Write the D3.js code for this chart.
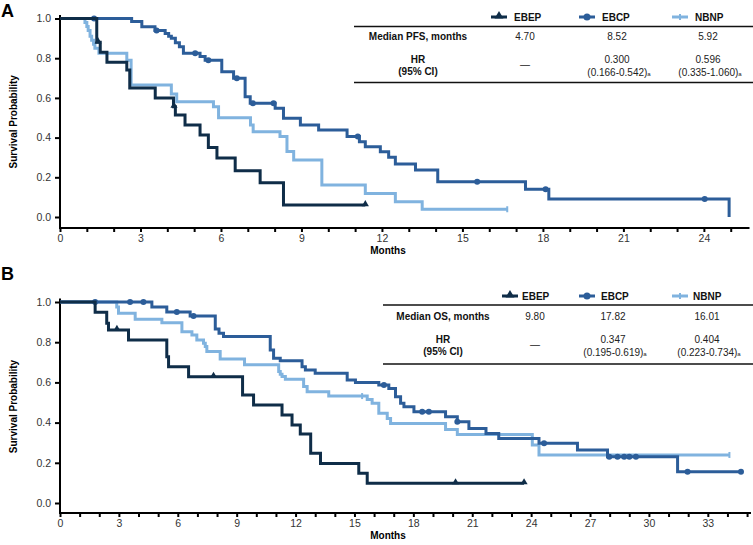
<!DOCTYPE html>
<html><head><meta charset="utf-8">
<script src="https://cdn.jsdelivr.net/npm/d3@7"></script>
<style>
html,body{margin:0;padding:0;background:#fff;}
svg{display:block;font-family:Arial,"Liberation Sans",Helvetica,sans-serif;}
</style></head>
<body><svg id="chart" width="753" height="545"></svg>
<script>
// ---------- data ----------
const groups = ["EBEP", "EBCP", "NBNP"];
const groupColors = ["#0f2d48", "#2c5d99", "#80b3df"];

const pfsMedians = ["4.70", "8.52", "5.92"];
const pfsHR = ["—", "0.300", "0.596"];
const pfsCI = ["", "(0.166-0.542)", "(0.335-1.060)"];
const osMedians = ["9.80", "17.82", "16.01"];
const osHR = ["—", "0.347", "0.404"];
const osCI = ["", "(0.195-0.619)", "(0.223-0.734)"];

const yTicks = [0, 0.2, 0.4, 0.6, 0.8, 1.0];

// PFS (panel A): event times (months) and survival after each step
const pfsEBEP_t = [1.37, 1.5, 1.75, 2.49, 2.6, 3.55, 4.23, 4.3, 4.66, 5.22, 5.53, 5.85, 6.53, 7.46, 8.33];
const pfsEBEP_s = [0.88, 0.83, 0.78, 0.74, 0.65, 0.60, 0.556, 0.514, 0.463, 0.413, 0.35, 0.297, 0.233, 0.173, 0.06];
const pfsEBEP_end = 11.38;
const pfsEBEP_cens = [1.42, 4.25, 11.38];

const pfsEBCP_t = [2.67, 3.05, 3.54, 3.92, 4.05, 4.15, 4.3, 4.45, 4.6, 5.22, 5.41, 6.03, 6.47, 6.9, 7.09, 8.02, 8.33, 8.96, 9.64, 10.7, 11.16, 11.38, 11.94, 12.25, 12.5, 13.25, 14.08, 17.35, 18.22, 24.94];
const pfsEBCP_s = [0.985, 0.959, 0.94, 0.925, 0.91, 0.9, 0.878, 0.858, 0.825, 0.808, 0.79, 0.732, 0.699, 0.606, 0.573, 0.548, 0.497, 0.463, 0.438, 0.405, 0.379, 0.354, 0.329, 0.301, 0.267, 0.237, 0.178, 0.14, 0.091, 0.0];
const pfsEBCP_end = 24.94;
const pfsEBCP_cens = [1.27, 3.6, 5.04, 5.53, 6.59, 7.19, 7.96, 11.1, 15.55, 18.1, 24.03];

const pfsNBNP_t = [0.93, 1.0, 1.05, 1.12, 1.18, 1.25, 1.3, 1.45, 2.49, 2.65, 4.15, 4.35, 5.72, 5.91, 7.1, 7.2, 8.2, 8.46, 8.71, 9.76, 11.38, 12.5, 13.5];
const pfsNBNP_s = [0.98, 0.96, 0.94, 0.91, 0.89, 0.87, 0.85, 0.825, 0.79, 0.665, 0.62, 0.58, 0.556, 0.5, 0.463, 0.43, 0.405, 0.33, 0.287, 0.161, 0.119, 0.077, 0.039];
const pfsNBNP_end = 16.67;
const pfsNBNP_cens = [16.67];

// OS (panel B)
const osEBEP_t = [1.79, 2.38, 2.47, 3.49, 5.44, 5.53, 6.55, 9.3, 9.86, 11.31, 11.82, 12.24, 12.77, 13.27, 15.22, 15.65];
const osEBEP_s = [0.949, 0.894, 0.861, 0.811, 0.728, 0.678, 0.628, 0.537, 0.488, 0.438, 0.388, 0.343, 0.247, 0.197, 0.148, 0.098];
const osEBEP_end = 23.64;
const osEBEP_cens = [2.9, 7.82, 20.15, 23.64];

const osEBCP_t = [4.68, 5.44, 6.63, 7.91, 8.1, 8.33, 10.71, 10.88, 11.22, 12.33, 12.5, 13.0, 14.63, 15.05, 16.24, 16.75, 17.09, 17.35, 17.52, 18.03, 19.64, 20.24, 20.83, 21.7, 22.35, 24.4, 26.36, 27.89, 31.46];
const osEBCP_s = [0.975, 0.95, 0.93, 0.866, 0.845, 0.828, 0.761, 0.72, 0.708, 0.678, 0.662, 0.645, 0.612, 0.6, 0.587, 0.57, 0.529, 0.496, 0.479, 0.454, 0.429, 0.404, 0.371, 0.346, 0.321, 0.297, 0.264, 0.23, 0.156];
const osEBCP_end = 34.69;
const osEBCP_cens = [1.79, 3.57, 4.25, 5.95, 6.8, 16.5, 18.45, 18.79, 20.24, 24.66, 27.98, 28.4, 28.74, 29.0, 29.34, 31.97, 34.69];

const osNBNP_t = [2.89, 2.98, 3.83, 5.19, 6.21, 6.72, 6.97, 7.31, 7.4, 7.48, 8.16, 9.4, 11.14, 11.22, 11.31, 11.48, 12.41, 12.59, 13.69, 15.65, 15.9, 16.24, 16.67, 16.84, 19.64, 20.24, 24.06, 24.4];
const osNBNP_s = [0.975, 0.944, 0.914, 0.897, 0.852, 0.836, 0.811, 0.795, 0.778, 0.754, 0.716, 0.688, 0.654, 0.64, 0.629, 0.616, 0.579, 0.554, 0.532, 0.515, 0.496, 0.446, 0.421, 0.396, 0.366, 0.341, 0.289, 0.239];
const osNBNP_end = 34.1;
const osNBNP_cens = [15.39, 34.1];

// ---------- drawing ----------
const svg = d3.select("#chart");

function stepPoints(ts, ss, end) {
  const pts = [[0, 1]];
  ts.forEach((t, i) => pts.push([t, ss[i]]));
  pts.push([end, ss[ss.length - 1]]);
  return pts;
}
function survAt(ts, ss, t) {
  let s = 1;
  ts.forEach((tt, i) => { if (tt <= t + 1e-9) s = ss[i]; });
  return s;
}

function drawPanel(cfg) {
  const g = svg.append("g");
  const x = d3.scaleLinear().domain([0, cfg.xMax]).range([60, cfg.xRight]);
  const y = d3.scaleLinear().domain([0, 1]).range([cfg.y0, cfg.y1]);

  // panel letter
  g.append("text").attr("x", 1).attr("y", cfg.letterY).attr("font-size", 18)
    .attr("font-weight", "bold").attr("fill", "#000").text(cfg.letter);

  // y axis
  const ya = g.append("g").attr("transform", "translate(60,0)")
    .call(d3.axisLeft(y).tickValues(yTicks).tickSize(5).tickPadding(4).tickFormat(d3.format(".1f")));
  ya.select(".domain").remove();
  ya.selectAll(".tick line").attr("stroke", "#000").attr("stroke-width", 2);
  ya.selectAll(".tick text").attr("font-size", 10.5).attr("fill", "#333").attr("font-family", "Arial, 'Liberation Sans', sans-serif");
  g.append("line").attr("x1", 60).attr("x2", 60).attr("y1", cfg.y1 - 3.5).attr("y2", cfg.axisY + 1)
    .attr("stroke", "#000").attr("stroke-width", 2);

  // x axis
  const xa = g.append("g").attr("transform", `translate(0,${cfg.axisY})`)
    .call(d3.axisBottom(x).tickValues(d3.range(0, Math.floor(cfg.xMax) + 1)).tickSize(4).tickPadding(3)
      .tickFormat(d => d % 3 === 0 ? d : ""));
  xa.select(".domain").remove();
  xa.selectAll(".tick line").attr("stroke", "#000").attr("stroke-width", 2);
  xa.selectAll(".tick text").attr("font-size", 10.5).attr("fill", "#333").attr("font-family", "Arial, 'Liberation Sans', sans-serif");
  g.append("line").attr("x1", 59).attr("x2", cfg.xRight).attr("y1", cfg.axisY).attr("y2", cfg.axisY)
    .attr("stroke", "#000").attr("stroke-width", 2);

  // axis titles
  g.append("text").attr("transform", `translate(17,${(cfg.y0 + cfg.y1) / 2 + 4}) rotate(-90)`)
    .attr("text-anchor", "middle").attr("font-size", 10).attr("font-weight", "bold").text("Survival Probability");
  g.append("text").attr("x", 388).attr("y", cfg.axisY + 26).attr("text-anchor", "middle")
    .attr("font-size", 10).attr("font-weight", "bold").text("Months");

  // curves
  const line = d3.line().x(d => x(d[0])).y(d => y(d[1])).curve(d3.curveStepAfter);
  const order = [2, 1, 0];
  order.forEach(i => {
    const s = cfg.series[i];
    g.append("path").datum(stepPoints(s.t, s.s, s.end))
      .attr("d", line).attr("fill", "none").attr("stroke", groupColors[i])
      .attr("stroke-width", 3).attr("stroke-linejoin", "miter");
    const cg = g.append("g");
    s.cens.forEach(ct => {
      const cx = x(ct), cy = y(survAt(s.t, s.s, ct));
      if (i === 1) {
        cg.append("circle").attr("cx", cx).attr("cy", cy).attr("r", 3).attr("fill", groupColors[i]);
      } else if (i === 0) {
        cg.append("path").attr("d", d3.symbol(d3.symbolTriangle, 22)())
          .attr("transform", `translate(${cx},${cy - 1})`).attr("fill", groupColors[i]);
      } else {
        cg.append("line").attr("x1", cx).attr("x2", cx).attr("y1", cy - 3).attr("y2", cy + 3)
          .attr("stroke", groupColors[i]).attr("stroke-width", 2);
      }
    });
  });

  // table
  const t = cfg.table;
  const tg = g.append("g");
  tg.append("line").attr("x1", t.lineX).attr("x2", 753).attr("y1", t.top).attr("y2", t.top)
    .attr("stroke", "#111").attr("stroke-width", 1.5);
  tg.append("line").attr("x1", t.lineX).attr("x2", 753).attr("y1", t.bottom).attr("y2", t.bottom)
    .attr("stroke", "#111").attr("stroke-width", 1.5);
  groups.forEach((name, i) => {
    const lx = t.legX[i], ly = t.legY;
    tg.append("line").attr("x1", lx).attr("x2", lx + 16).attr("y1", ly).attr("y2", ly)
      .attr("stroke", groupColors[i]).attr("stroke-width", 3);
    if (i === 0) {
      tg.append("path").attr("d", d3.symbol(d3.symbolTriangle, 34)()).attr("transform", `translate(${lx + 8},${ly - 1})`).attr("fill", groupColors[i]);
    } else if (i === 1) {
      tg.append("circle").attr("cx", lx + 8).attr("cy", ly).attr("r", 3.5).attr("fill", groupColors[i]);
    } else {
      tg.append("line").attr("x1", lx + 8).attr("x2", lx + 8).attr("y1", ly - 3).attr("y2", ly + 3)
        .attr("stroke", groupColors[i]).attr("stroke-width", 2);
    }
    tg.append("text").attr("x", t.legText[i]).attr("y", ly + 3.5).attr("font-size", 10)
      .attr("font-weight", "bold").attr("fill", "#111").text(name);
    // median row
    tg.append("text").attr("x", t.colX[i]).attr("y", t.rowMed + 3.5).attr("text-anchor", "middle")
      .attr("font-size", 10).attr("fill", "#222").text(cfg.medians[i]);
    if (i === 0) {
      tg.append("text").attr("x", t.colX[i]).attr("y", t.rowHR + 9).attr("text-anchor", "middle")
        .attr("font-size", 10).attr("fill", "#222").text(cfg.hr[i]);
    } else {
      tg.append("text").attr("x", t.colX[i]).attr("y", t.rowHR + 3.5).attr("text-anchor", "middle")
        .attr("font-size", 10).attr("fill", "#222").text(cfg.hr[i]);
      const ci = tg.append("text").attr("x", t.colX[i] + 2).attr("y", t.rowHR + 16.5).attr("text-anchor", "middle")
        .attr("font-size", 10).attr("fill", "#222");
      ci.append("tspan").text(cfg.ci[i]);
      ci.append("tspan").attr("font-size", 6).text("a");
    }
  });
  tg.append("text").attr("x", t.labelX).attr("y", t.rowMed + 3.5).attr("text-anchor", "middle")
    .attr("font-size", 10).attr("font-weight", "bold").attr("fill", "#111").text(cfg.medLabel);
  tg.append("text").attr("x", t.labelX).attr("y", t.rowHR + 3.5).attr("text-anchor", "middle")
    .attr("font-size", 10).attr("font-weight", "bold").attr("fill", "#111").text("HR");
  tg.append("text").attr("x", t.labelX).attr("y", t.rowHR + 15.5).attr("text-anchor", "middle")
    .attr("font-size", 10).attr("font-weight", "bold").attr("fill", "#111").text("(95% CI)");
}

drawPanel({
  letter: "A", letterY: 17,
  xMax: 25.7, xRight: 749.5, y0: 217, y1: 18.5, axisY: 228,
  series: [
    { t: pfsEBEP_t, s: pfsEBEP_s, end: pfsEBEP_end, cens: pfsEBEP_cens },
    { t: pfsEBCP_t, s: pfsEBCP_s, end: pfsEBCP_end, cens: pfsEBCP_cens },
    { t: pfsNBNP_t, s: pfsNBNP_s, end: pfsNBNP_end, cens: pfsNBNP_cens }
  ],
  medians: pfsMedians, hr: pfsHR, ci: pfsCI, medLabel: "Median PFS, months",
  table: { lineX: 354, top: 26.5, bottom: 82.5, legY: 17, legX: [491, 579, 672], legText: [514, 602, 695],
           colX: [525, 617, 708], labelX: 418, rowMed: 36, rowHR: 59 }
});

drawPanel({
  letter: "B", letterY: 280,
  xMax: 35.2, xRight: 751, y0: 503, y1: 302, axisY: 513,
  series: [
    { t: osEBEP_t, s: osEBEP_s, end: osEBEP_end, cens: osEBEP_cens },
    { t: osEBCP_t, s: osEBCP_s, end: osEBCP_end, cens: osEBCP_cens },
    { t: osNBNP_t, s: osNBNP_s, end: osNBNP_end, cens: osNBNP_cens }
  ],
  medians: osMedians, hr: osHR, ci: osCI, medLabel: "Median OS, months",
  table: { lineX: 383, top: 305, bottom: 364, legY: 296, legX: [502, 579, 672], legText: [522, 601, 693],
           colX: [535, 613, 707], labelX: 443, rowMed: 316, rowHR: 339 }
});
</script></body></html>
